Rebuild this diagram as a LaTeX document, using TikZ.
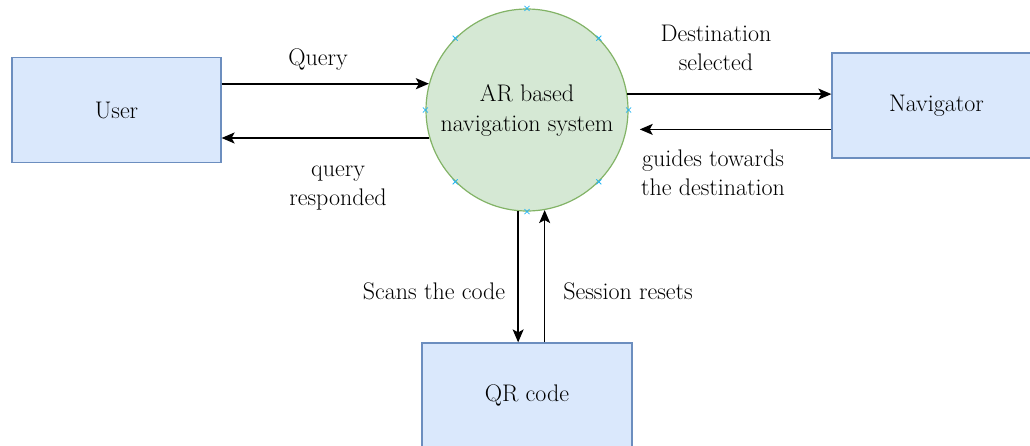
\documentclass[tikz,border=0pt]{standalone}
\usetikzlibrary{arrows.meta,calc}
\definecolor{boxfill}{HTML}{DAE8FC}
\definecolor{boxline}{HTML}{6C8EBF}
\definecolor{circfill}{HTML}{D5E8D4}
\definecolor{circline}{HTML}{82B366}
\definecolor{ptcol}{HTML}{29B6F2}
\tikzset{
  box/.style={draw=boxline, fill=boxfill, line width=1.2pt, minimum width=209pt, minimum height=105pt, inner sep=0pt, font=\fontsize{24}{29}\selectfont},
  sysnode/.style={circle, draw=circline, fill=circfill, line width=1.2pt, minimum size=202pt, inner sep=0pt, align=center, font=\fontsize{24}{30}\selectfont},
  lbl/.style={align=center, inner sep=0pt, font=\fontsize{24}{29}\selectfont},
  arr/.style={line width=1.6pt, -{Stealth[length=13pt, width=11pt, inset=3pt]}},
  cpt/.style={ptcol, line width=0.8pt}
}
\begin{document}
\begin{tikzpicture}[x=1pt, y=-1pt]
\useasboundingbox (0,0) rectangle (1030,445);
\node[box] (user) at (116.5,110) {User};
\node[box] (nav) at (936.5,105.5) {Navigator};
\node[box, minimum width=210pt] (qr) at (527,395.5) {QR code};
\node[sysnode] (sys) at (527,110) {AR based\\navigation system};
\foreach \a in {0,45,...,315} {
  \draw[cpt] ($(sys.\a)+(-2.5,-2.5)$) -- ++(5,5) ($(sys.\a)+(-2.5,2.5)$) -- ++(5,-5);
}
\draw[arr] (user.east |- sys.165) -- (sys.165);
\draw[arr] (sys.196) -- (user.east |- sys.196);
\draw[arr] (sys.9) -- (nav.west |- sys.9);
\draw[arr, shorten >=13pt] (nav.west |- sys.-11) -- (sys.-11);
\draw[arr] (sys.265) -- (sys.265 |- qr.north);
\draw[arr] (sys.280 |- qr.north) -- (sys.280);
\node[lbl] (lq) at (318,60) {Query};
\node[lbl] (lr) at (338,188) {query\\responded};
\node[lbl] (ld) at (716,48) {Destination\\selected};
\node[lbl] (lg) at (713,173) {guides towards\\the destination};
\node[lbl] (ls) at (434,291) {Scans the code};
\node[lbl] (lsr) at (628,291) {Session resets};
\end{tikzpicture}
\end{document}
